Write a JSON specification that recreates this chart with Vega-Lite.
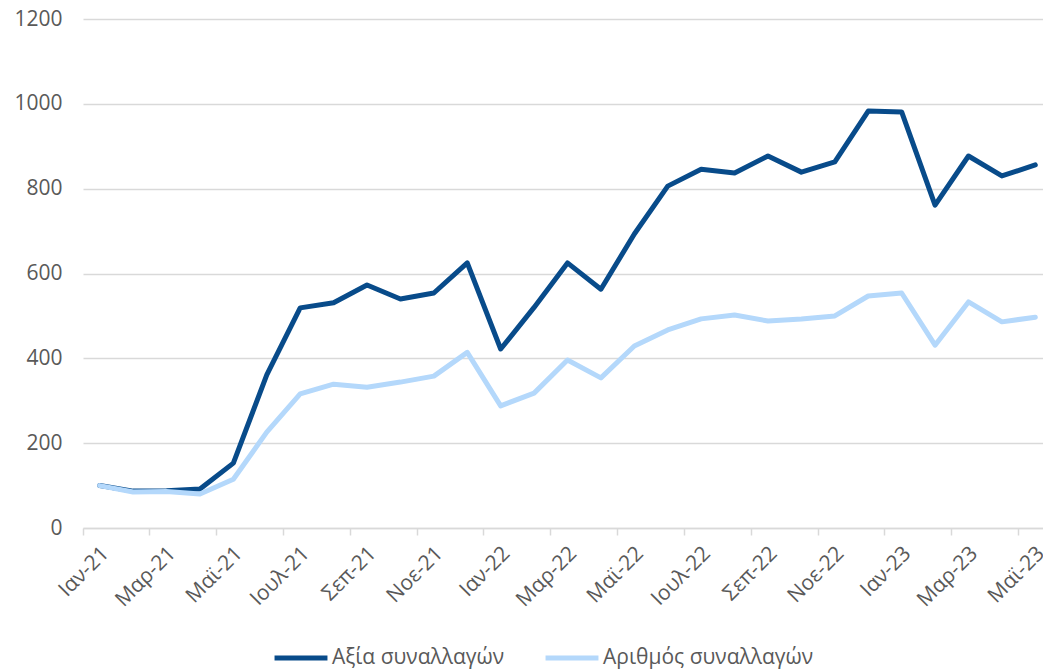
{
  "$schema": "https://vega.github.io/schema/vega-lite/v6.json",
  "width": 969,
  "height": 509,
  "autosize": {"type": "none"},
  "padding": {"left": 83, "top": 19, "right": 0, "bottom": 142},
  "background": "white",
  "config": {
    "view": {"stroke": null},
    "font": "Open Sans"
  },
  "data": {
    "values": [
      {"m": "Ιαν-21", "Αξία συναλλαγών": 100, "Αριθμός συναλλαγών": 100},
      {"m": "Φεβ-21", "Αξία συναλλαγών": 87, "Αριθμός συναλλαγών": 85},
      {"m": "Μαρ-21", "Αξία συναλλαγών": 88, "Αριθμός συναλλαγών": 86},
      {"m": "Απρ-21", "Αξία συναλλαγών": 92, "Αριθμός συναλλαγών": 80},
      {"m": "Μαϊ-21", "Αξία συναλλαγών": 153, "Αριθμός συναλλαγών": 115},
      {"m": "Ιουν-21", "Αξία συναλλαγών": 361, "Αριθμός συναλλαγών": 226},
      {"m": "Ιουλ-21", "Αξία συναλλαγών": 519, "Αριθμός συναλλαγών": 316},
      {"m": "Αυγ-21", "Αξία συναλλαγών": 531, "Αριθμός συναλλαγών": 339},
      {"m": "Σεπ-21", "Αξία συναλλαγών": 573, "Αριθμός συναλλαγών": 332},
      {"m": "Οκτ-21", "Αξία συναλλαγών": 540, "Αριθμός συναλλαγών": 344},
      {"m": "Νοε-21", "Αξία συναλλαγών": 554, "Αριθμός συναλλαγών": 358},
      {"m": "Δεκ-21", "Αξία συναλλαγών": 625, "Αριθμός συναλλαγών": 414},
      {"m": "Ιαν-22", "Αξία συναλλαγών": 422, "Αριθμός συναλλαγών": 288},
      {"m": "Φεβ-22", "Αξία συναλλαγών": 520, "Αριθμός συναλλαγών": 318},
      {"m": "Μαρ-22", "Αξία συναλλαγών": 625, "Αριθμός συναλλαγών": 396},
      {"m": "Απρ-22", "Αξία συναλλαγών": 563, "Αριθμός συναλλαγών": 354},
      {"m": "Μαϊ-22", "Αξία συναλλαγών": 693, "Αριθμός συναλλαγών": 429},
      {"m": "Ιουν-22", "Αξία συναλλαγών": 806, "Αριθμός συναλλαγών": 467},
      {"m": "Ιουλ-22", "Αξία συναλλαγών": 846, "Αριθμός συναλλαγών": 493},
      {"m": "Αυγ-22", "Αξία συναλλαγών": 837, "Αριθμός συναλλαγών": 502},
      {"m": "Σεπ-22", "Αξία συναλλαγών": 877, "Αριθμός συναλλαγών": 488},
      {"m": "Οκτ-22", "Αξία συναλλαγών": 839, "Αριθμός συναλλαγών": 493},
      {"m": "Νοε-22", "Αξία συναλλαγών": 863, "Αριθμός συναλλαγών": 500},
      {"m": "Δεκ-22", "Αξία συναλλαγών": 983, "Αριθμός συναλλαγών": 547},
      {"m": "Ιαν-23", "Αξία συναλλαγών": 981, "Αριθμός συναλλαγών": 554},
      {"m": "Φεβ-23", "Αξία συναλλαγών": 761, "Αριθμός συναλλαγών": 431},
      {"m": "Μαρ-23", "Αξία συναλλαγών": 877, "Αριθμός συναλλαγών": 533},
      {"m": "Απρ-23", "Αξία συναλλαγών": 830, "Αριθμός συναλλαγών": 486},
      {"m": "Μαϊ-23", "Αξία συναλλαγών": 856, "Αριθμός συναλλαγών": 497}
    ]
  },
  "transform": [
    {"fold": ["Αξία συναλλαγών", "Αριθμός συναλλαγών"], "as": ["series", "value"]}
  ],
  "mark": {"type": "line", "strokeWidth": 5, "strokeJoin": "round", "strokeCap": "round"},
  "encoding": {
    "x": {
      "field": "m",
      "type": "ordinal",
      "sort": null,
      "scale": {"type": "band", "paddingInner": 0, "paddingOuter": 0},
      "axis": {
        "title": null,
        "values": ["Ιαν-21", "Μαρ-21", "Μαϊ-21", "Ιουλ-21", "Σεπ-21", "Νοε-21", "Ιαν-22", "Μαρ-22", "Μαϊ-22", "Ιουλ-22", "Σεπ-22", "Νοε-22", "Ιαν-23", "Μαρ-23", "Μαϊ-23"],
        "bandPosition": 0,
        "labelOffset": 6,
        "labelAngle": -45,
        "labelAlign": "right",
        "labelBaseline": "middle",
        "labelFontSize": 21,
        "labelColor": "#595959",
        "labelPadding": 15,
        "domainColor": "#d9d9d9",
        "domainWidth": 1.5,
        "tickColor": "#d9d9d9",
        "tickWidth": 1.5,
        "tickSize": 7,
        "grid": false
      }
    },
    "y": {
      "field": "value",
      "type": "quantitative",
      "scale": {"domain": [0, 1200]},
      "axis": {
        "title": null,
        "values": [0, 200, 400, 600, 800, 1000, 1200],
        "format": "d",
        "domain": false,
        "ticks": false,
        "labelFontSize": 21,
        "labelColor": "#595959",
        "labelPadding": 21,
        "gridColor": "#d9d9d9",
        "gridWidth": 1.5
      }
    },
    "color": {
      "field": "series",
      "type": "nominal",
      "sort": ["Αξία συναλλαγών", "Αριθμός συναλλαγών"],
      "scale": {"domain": ["Αξία συναλλαγών", "Αριθμός συναλλαγών"], "range": ["#084b8a", "#b4d8fb"]},
      "legend": {
        "title": null,
        "orient": "none",
        "legendX": 189,
        "legendY": 610,
        "direction": "horizontal",
        "symbolType": "stroke",
        "symbolStrokeWidth": 5,
        "symbolSize": 2800,
        "labelFontSize": 21,
        "labelColor": "#595959",
        "labelLimit": 0,
        "labelOffset": 2,
        "columnPadding": 30
      }
    }
  }
}
